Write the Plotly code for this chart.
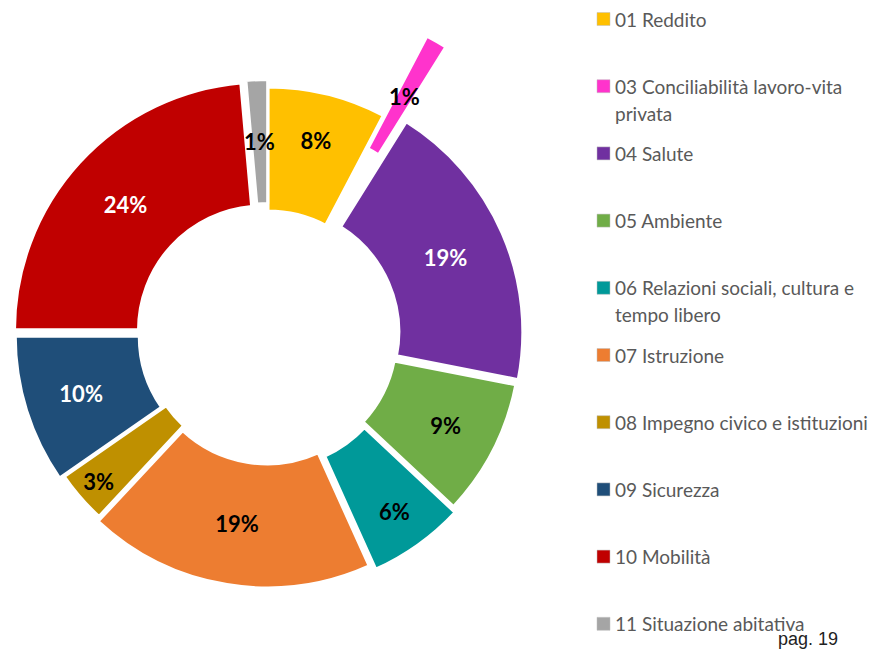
"""Donut chart: distribuzione per dominio."""

import math
import plotly.graph_objects as go

labels = [
    "01 Reddito",
    "03 Conciliabilità lavoro-vita privata",
    "04 Salute",
    "05 Ambiente",
    "06 Relazioni sociali, cultura e tempo libero",
    "07 Istruzione",
    "08 Impegno civico e istituzioni",
    "09 Sicurezza",
    "10 Mobilità",
    "11 Situazione abitativa",
]
legend_text = [
    "01 Reddito",
    "03 Conciliabilità lavoro-vita<br>privata",
    "04 Salute",
    "05 Ambiente",
    "06 Relazioni sociali, cultura e<br>tempo libero",
    "07 Istruzione",
    "08 Impegno civico e istituzioni",
    "09 Sicurezza",
    "10 Mobilità",
    "11 Situazione abitativa",
]
values = [7.7, 1.2, 19.2, 8.9, 6.3, 18.7, 3.4, 9.7, 23.6, 1.4]
colors = ["#FFC000", "#FF33CC", "#7030A0", "#70AD47", "#009999",
          "#ED7D31", "#BF9000", "#1F4E79", "#C00000", "#A5A5A5"]
text_colors = ["black", "black", "white", "black", "black",
               "black", "black", "white", "white", "black"]
pulls = [0, 0, 0.03, 0.02, 0.04, 0.02, 0, 0.02, 0.03, 0.03]
EXPLODED = 1        # the slice drawn detached from the ring
SMALL = {1, 9}      # slices whose label is placed by hand (too thin for plotly)

# page body has an 8px margin, so the figure is sized to fit inside it
FW, FH = 863, 643
R = 248            # outer radius, px
HOLE = 0.5
CX, CY = 260, 327  # ring centre, px from top-left
EXPLODE = 89       # detachment of the exploded slice, px
LABEL_FONT = dict(family="Lato", size=22, weight="bold")


def dom(cx, cy, half):
    return dict(x=[(cx - half) / FW, (cx + half) / FW],
                y=[1 - (cy + half) / FH, 1 - (cy - half) / FH])


def mid_angle(i):
    return (sum(values[:i]) + values[i] / 2) / sum(values) * 2 * math.pi


clear = "rgba(0,0,0,0)"
n = len(values)
main_colors = [clear if i == EXPLODED else c for i, c in enumerate(colors)]
main_text = ["" if i in SMALL else "%{percent:.0%}" for i in range(n)]
main_line_w = [0 if i == EXPLODED else 3 for i in range(n)]

fig = go.Figure()
fig.add_trace(go.Pie(
    labels=labels,
    values=values,
    hole=HOLE,
    sort=False,
    direction="clockwise",
    rotation=0,
    pull=pulls,
    marker=dict(colors=main_colors, line=dict(color="white", width=main_line_w)),
    texttemplate=main_text,
    textposition="inside",
    insidetextorientation="horizontal",
    textfont=dict(color=text_colors, **LABEL_FONT),
    domain=dom(CX, CY, R * (1 + max(pulls))),
    showlegend=False,
))

# exploded slice: same ring, centre shifted along the slice bisector
a = mid_angle(EXPLODED)
ex_cx = CX + EXPLODE * math.sin(a)
ex_cy = CY - EXPLODE * math.cos(a)
ex_colors = [c if i == EXPLODED else clear for i, c in enumerate(colors)]
fig.add_trace(go.Pie(
    labels=labels,
    values=values,
    hole=HOLE,
    sort=False,
    direction="clockwise",
    rotation=0,
    marker=dict(colors=ex_colors, line=dict(width=0)),
    textinfo="none",
    domain=dom(ex_cx, ex_cy, R),
    showlegend=False,
    hoverinfo="skip",
))

annotations = []
# labels of the thin slices, centred at mid radius on their bisector
total = sum(values)
for i in sorted(SMALL):
    a = mid_angle(i)
    if i == EXPLODED:
        cx, cy = ex_cx, ex_cy
    else:
        cx = CX + pulls[i] * R * math.sin(a)
        cy = CY - pulls[i] * R * math.cos(a)
    rm = R * (1 + HOLE) / 2
    annotations.append(dict(
        text=f"{round(values[i] / total * 100)}%", xref="paper", yref="paper",
        x=(cx + rm * math.sin(a)) / FW, y=1 - (cy - rm * math.cos(a)) / FH,
        xanchor="center", yanchor="middle", showarrow=False,
        font=dict(color=text_colors[i], **LABEL_FONT),
    ))

# hand-built legend on the right
shapes = []
for i, (txt, col) in enumerate(zip(legend_text, colors)):
    yc = 11 + 67.2 * i
    shapes.append(dict(
        type="rect", xref="paper", yref="paper",
        x0=589 / FW, x1=602 / FW, y0=1 - (yc + 6.5) / FH, y1=1 - (yc - 6.5) / FH,
        fillcolor=col, line=dict(color="#BFBFBF", width=0.5),
    ))
    for j, line in enumerate(txt.split("<br>")):
        annotations.append(dict(
            text=line, xref="paper", yref="paper",
            x=605 / FW, y=1 - (yc + 27 * j) / FH,
            xanchor="left", yanchor="middle", showarrow=False,
            font=dict(family="Lato", size=19, color="#595959"),
        ))

annotations.append(dict(
    text="pag. 19", xref="paper", yref="paper",
    x=832 / FW, y=0, xanchor="right", yanchor="bottom",
    showarrow=False,
    font=dict(family="Liberation Sans", size=18, color="#222222"),
))

fig.update_layout(
    width=FW, height=FH,
    margin=dict(l=0, r=0, t=0, b=0),
    paper_bgcolor="white",
    plot_bgcolor="white",
    uniformtext=dict(mode="show", minsize=22),
    shapes=shapes,
    annotations=annotations,
)

fig.write_html("out.html")
